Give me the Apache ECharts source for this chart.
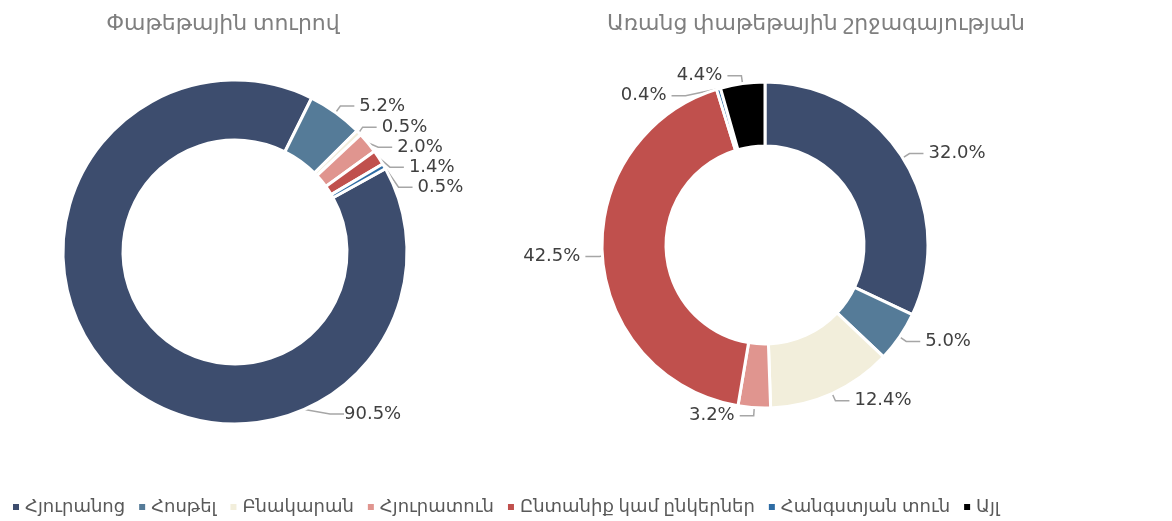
<!DOCTYPE html>
<html>
<head>
<meta charset="utf-8">
<script src="https://cdn.jsdelivr.net/npm/echarts@6/dist/echarts.min.js"></script>
<style>
  html, body { margin: 0; padding: 0; background: #fff; }
  #chart { width: 1172px; height: 521px; }
</style>
</head>
<body>
<div id="chart"></div>
<script>
  // categories (legend order)
  const categories = ['Հյուրանոց', 'Հոսթել', 'Բնակարան', 'Հյուրատուն', 'Ընտանիք կամ ընկերներ', 'Հանգստյան տուն', 'Այլ']
  const colors = ['#3d4d6e', '#557b98', '#f2eedb', '#e0958f', '#c0504d', '#2e6ca4', '#000000']

  const titles = ['Փաթեթային տուրով', 'Առանց փաթեթային շրջագայության']

  // percent shares
  const packageTour = [90.5, 5.2, 0.5, 2.0, 1.4, 0.5]
  const noPackage = [32.0, 5.0, 12.4, 3.2, 42.5, 0.4, 4.4]

  const font = "'Noto Sans', 'DejaVu Sans', sans-serif"
  const labelFont = "'DejaVu Sans', sans-serif"

  const toData = values => values.map((v, i) => ({
    name: categories[i],
    value: v,
    itemStyle: { color: colors[i] }
  }))

  const pieBase = {
    type: 'pie',
    clockwise: true,
    avoidLabelOverlap: true,
    itemStyle: { borderColor: '#fff', borderWidth: 3 },
    label: {
      show: true,
      formatter: d => d.value.toFixed(1) + '%',
      color: '#404040',
      fontSize: 18,
      fontFamily: labelFont
    },
    labelLine: {
      show: true,
      length: 8,
      length2: 14,
      lineStyle: { color: '#a6a6a6', width: 1.5 }
    },
    emphasis: { disabled: true }
  }

  const chart = echarts.init(document.getElementById('chart'))
  chart.setOption({
    animation: false,
    color: colors,
    title: [{
      text: titles[0],
      left: 218,
      top: 8,
      textAlign: 'center',
      textStyle: { color: '#7f7f7f', fontSize: 22, fontWeight: 'normal', fontFamily: font }
    }, {
      text: titles[1],
      left: 811,
      top: 8,
      textAlign: 'center',
      textStyle: { color: '#7f7f7f', fontSize: 22, fontWeight: 'normal', fontFamily: font }
    }],
    legend: {
      data: categories,
      left: 6,
      bottom: 0,
      itemWidth: 8,
      itemHeight: 8,
      itemGap: 12,
      icon: 'rect',
      textStyle: { color: '#595959', fontSize: 18, fontFamily: font }
    },
    series: [
      Object.assign({}, pieBase, {
        name: titles[0],
        center: [235, 252],
        radius: [112, 172],
        startAngle: 29,
        data: toData(packageTour),
        // the big slice's label sits at the lower right, as in the original
        labelLayout: p => p.dataIndex === 0 ? { x: 344, y: 414, align: 'left', verticalAlign: 'middle' } : {}
      }),
      Object.assign({}, pieBase, {
        name: titles[1],
        center: [765, 245],
        radius: [99, 163],
        startAngle: 90,
        data: toData(noPackage)
      })
    ]
  })
</script>
</body>
</html>
